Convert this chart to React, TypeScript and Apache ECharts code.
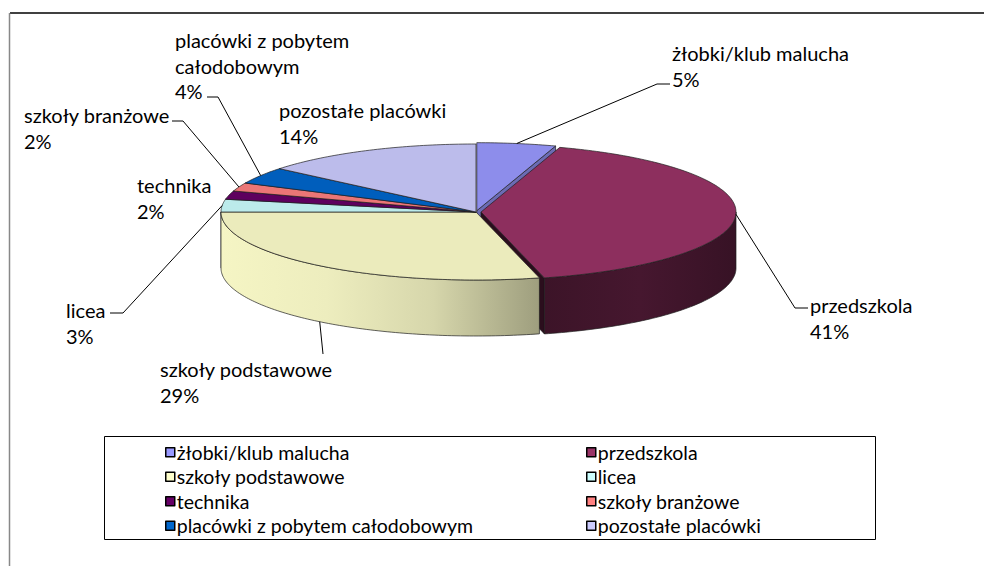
import React, { useEffect, useRef } from 'react';
import * as echarts from 'echarts';

// ---- data ----
const categories = [
  'żłobki/klub malucha',
  'przedszkola',
  'szkoły podstawowe',
  'licea',
  'technika',
  'szkoły branżowe',
  'placówki z pobytem całodobowym',
  'pozostałe placówki',
];
const shares = [5, 41, 29, 3, 2, 2, 4, 14];
const labelNames = [
  'żłobki/klub malucha',
  'przedszkola',
  'szkoły podstawowe',
  'licea',
  'technika',
  'szkoły branżowe',
  'placówki z pobytem\ncałodobowym',
  'pozostałe placówki',
];
const paletteColors = ['#9999FF', '#993366', '#FFFFCC', '#CCFFFF', '#660066', '#FF8080', '#0066CC', '#CCCCFF'];

// ---- layout / style (not data) ----
const PIE = { cx: 476, cy: 212, rx: 255, ry: 68, depth: 56 };
const explode = [5, 5, 0, 0, 0, 0, 0, 0];
const FONT = 'Lato';
const FS = 20;
const LH = 25.5;
const LEGEND_FS = 19.5;
const labelLayout: { x: number; y: number; elbow: number[][] | null }[] = [
  { x: 672, y: 53, elbow: [[657, 84], [670, 84]] },
  { x: 810, y: 305, elbow: [[795, 308], [808, 308]] },
  { x: 160, y: 369, elbow: [[323, 354]] },
  { x: 66, y: 310, elbow: [[123, 313], [110, 313]] },
  { x: 137, y: 185, elbow: null },
  { x: 24, y: 115, elbow: [[183, 121], [172, 121]] },
  { x: 175, y: 40, elbow: [[218, 97], [207, 97]] },
  { x: 279, y: 110, elbow: null },
];
const wallFactors: number[][] = [
  [0.8, 0.7],
  [0.39, 0.46, 0.36],
  [0.96, 0.93, 0.84, 0.62],
  [0.9, 0.8],
  [0.7, 0.6],
  [0.8, 0.7],
  [0.7, 0.6],
  [0.8, 0.7],
];
const radialFactors = [0.7, 0.28, 0.6, 0.7, 0.6, 0.6, 0.6, 0.7];
const TOP_FACTOR = 0.92;

function shade(hex: string, f: number) {
  const n = parseInt(hex.slice(1), 16);
  const r = Math.min(255, Math.round(((n >> 16) & 255) * f));
  const g = Math.min(255, Math.round(((n >> 8) & 255) * f));
  const b = Math.min(255, Math.round((n & 255) * f));
  return `rgb(${r},${g},${b})`;
}

export default function App() {
  const ref = useRef<HTMLDivElement>(null);
  useEffect(() => {
    if (!ref.current) return;
    const chart = echarts.init(ref.current, null, { renderer: 'svg' });
    const total = shares.reduce((a, b) => a + b, 0);
    const cum: number[] = [];
    shares.reduce((acc, v, i) => {
      cum[i] = acc;
      return acc + v;
    }, 0);

    const renderItem = (params: any, api: any) => {
      const i = params.dataIndex;
      const v = api.value(0);
      const t0 = (cum[i] / total) * Math.PI * 2;
      const t1 = ((cum[i] + v) / total) * Math.PI * 2;
      const mid = (t0 + t1) / 2;
      const e = explode[i];
      const ox = e * Math.sin(mid);
      const oy = -e * Math.cos(mid) * (PIE.ry / PIE.rx);
      const { cx, cy, rx, ry, depth } = PIE;
      const pt = (t: number, z = 0) => [cx + ox + rx * Math.sin(t), cy + oy - ry * Math.cos(t) + z];
      const arc = (a: number, b: number, z = 0) => {
        const n = Math.max(2, Math.ceil(Math.abs(b - a) / (Math.PI / 180)));
        const out: number[][] = [];
        for (let k = 0; k <= n; k++) out.push(pt(a + ((b - a) * k) / n, z));
        return out;
      };
      const apex = [cx + ox, cy + oy];
      const apexB = [cx + ox, cy + oy + depth];
      const base = paletteColors[i];
      const stroke = '#1e1e1e';
      const children: any[] = [];

      const radialFill = shade(base, radialFactors[i]);
      if (Math.sin(t0) < 0) {
        children.push({ type: 'polygon', z2: 1, shape: { points: [apex, pt(t0), pt(t0, depth), apexB] }, style: { fill: radialFill, stroke, lineWidth: 0.7 } });
      }
      if (Math.sin(t1) > 0) {
        children.push({ type: 'polygon', z2: 1, shape: { points: [apex, pt(t1), pt(t1, depth), apexB] }, style: { fill: radialFill, stroke, lineWidth: 0.7 } });
      }
      const a = Math.max(t0, Math.PI / 2);
      const b = Math.min(t1, (Math.PI * 3) / 2);
      if (a < b) {
        const pts = arc(a, b, 0).concat(arc(b, a, depth));
        const fs = wallFactors[i];
        const stops = fs.map((f, k) => ({ offset: k / (fs.length - 1), color: shade(base, f) }));
        children.push({
          type: 'polygon', z2: 2, shape: { points: pts },
          style: { fill: new echarts.graphic.LinearGradient(0, 0, 1, 0, stops), stroke, lineWidth: 0.7 },
        });
      }
      children.push({
        type: 'polygon', z2: 3, shape: { points: [apex].concat(arc(t0, t1, 0)) },
        style: { fill: shade(base, TOP_FACTOR), stroke, lineWidth: 0.7 },
      });

      const lay = labelLayout[i];
      const pct = Math.round((v / total) * 100) + '%';
      const front = Math.cos(mid) < -0.3;
      const anchor = pt(mid, front ? depth : 0);
      if (lay.elbow) {
        children.push({
          type: 'polyline', z2: 5, shape: { points: [anchor].concat(lay.elbow) },
          style: { stroke: '#000', lineWidth: 1, fill: 'none' },
        });
      }
      children.push({
        type: 'text', z2: 6, x: lay.x, y: lay.y - LH / 2,
        style: {
          text: labelNames[i] + '\n' + pct, fill: '#000', fontFamily: FONT, fontSize: FS,
          lineHeight: LH, align: 'left', verticalAlign: 'top',
        },
      });
      return { type: 'group', children };
    };

    const legendCommon = {
      orient: 'vertical' as const,
      top: 440,
      itemWidth: 9,
      itemHeight: 9,
      itemGap: 0,
      padding: 0,
      icon: 'rect',
      selectedMode: false,
      itemStyle: { borderColor: '#000', borderWidth: 1.5 },
      textStyle: { fontFamily: FONT, fontSize: LEGEND_FS, color: '#000', lineHeight: 24.5, padding: [0, 0, 0, -3] },
    };

    chart.setOption({
      animation: false,
      backgroundColor: '#fff',
      graphic: [
        { type: 'line', shape: { x1: 10, y1: 13, x2: 984, y2: 13 }, style: { stroke: '#000', lineWidth: 1.5 } },
        { type: 'line', shape: { x1: 9.5, y1: 13, x2: 9.5, y2: 566 }, style: { stroke: '#888', lineWidth: 1.5 } },
        { type: 'rect', shape: { x: 104.5, y: 436.5, width: 771, height: 103 }, style: { fill: 'none', stroke: '#000', lineWidth: 1 } },
      ],
      legend: [
        { ...legendCommon, left: 165, data: [categories[0], categories[2], categories[4], categories[6]] },
        { ...legendCommon, left: 586, data: [categories[1], categories[3], categories[5], categories[7]] },
      ],
      series: [
        {
          type: 'custom',
          coordinateSystem: 'none',
          renderItem,
          data: shares.map((v, i) => ({ name: categories[i], value: v })),
        },
        {
          type: 'pie',
          center: [-200, -200],
          radius: 1,
          silent: true,
          label: { show: false },
          labelLine: { show: false },
          data: shares.map((v, i) => ({ name: categories[i], value: v, itemStyle: { color: paletteColors[i] } })),
        },
      ],
    });
    return () => chart.dispose();
  }, []);
  return <div ref={ref} style={{ position: 'fixed', left: 0, top: 0, width: 984, height: 566 }} />;
}
